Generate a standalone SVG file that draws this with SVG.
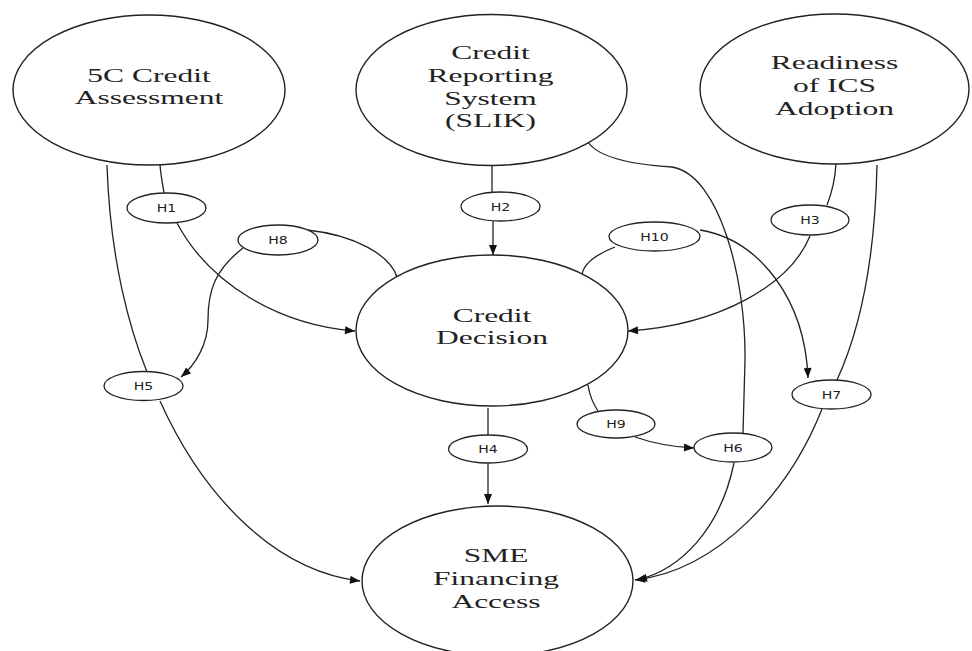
<svg xmlns="http://www.w3.org/2000/svg" width="972" height="651" viewBox="0 0 972 651">
<defs>
<style>
.big{fill:#fff;stroke:#222;stroke-width:1.4}
.hyp{fill:#fff;stroke:#222;stroke-width:1.3}
.lbl{font-family:"Liberation Serif","Times New Roman",serif;font-size:18px;fill:#222;text-anchor:middle}
.hl{font-family:"DejaVu Sans",sans-serif;font-size:11px;fill:#222;text-anchor:middle}
.c{fill:none;stroke:#222;stroke-width:1.3}
.a{marker-end:url(#arr)}
</style>
<marker id="arr" viewBox="0 0 10 8" refX="10" refY="4" markerWidth="11" markerHeight="8" markerUnits="userSpaceOnUse" orient="auto">
<path d="M0,0 L10,4 L0,8 z" fill="#111"/>
</marker>
</defs>
<rect width="972" height="651" fill="#fff"/>

<g id="connectors">
<!-- H1 -->
<path class="c" d="M160,165 C161,177 163,186 164,193"/>
<path class="c a" d="M177,223 C210,285 280,325 355,331"/>
<!-- H5 -->
<path class="c" d="M107,165 C110,260 130,330 147,372"/>
<path class="c a" d="M160,401 C200,490 270,570 360,581"/>
<!-- H8 -->
<path class="c" d="M307,230 C355,235 390,255 397,277"/>
<path class="c a" d="M243,248 C215,270 208,290 208,320 C208,345 195,365 181,377"/>
<!-- H2 -->
<path class="c" d="M492,165 L492,192"/>
<path class="c a" d="M493,221 L493,255"/>
<!-- H3 -->
<path class="c" d="M836,164 C835,180 831,195 827,205"/>
<path class="c a" d="M810,236 C790,285 720,325 628,331"/>
<!-- H7 -->
<path class="c" d="M877,165 C875,260 860,330 837,380"/>
<path class="c a" d="M822,409 C790,490 720,570 635,580"/>
<!-- H10 -->
<path class="c" d="M615,247 C595,255 583,265 582,275"/>
<path class="c a" d="M700,230 C760,240 805,300 808,378"/>
<!-- H6 -->
<path class="c" d="M588,142 C600,160 640,165 672,167 C720,175 746,280 745,360 L743,433"/>
<path class="c a" d="M734,463 C720,530 680,570 637,580"/>
<!-- H9 -->
<path class="c" d="M588,385 C590,398 594,405 598,411"/>
<path class="c a" d="M635,437 C655,444 675,447 694,448"/>
<!-- H4 -->
<path class="c" d="M488,408 L488,435"/>
<path class="c a" d="M488,463 L488,504"/>
</g>

<g id="n-5c">
<ellipse class="big" cx="149" cy="90" rx="136" ry="75"/>
<g transform="translate(149,0) scale(1.75,1)">
<text class="lbl" x="0" y="82">5C Credit</text>
<text class="lbl" x="0" y="104">Assessment</text>
</g>
</g>
<g id="n-slik">
<ellipse class="big" cx="491.5" cy="90" rx="135.5" ry="75.5"/>
<g transform="translate(490.5,0) scale(1.75,1)">
<text class="lbl" x="0" y="59">Credit</text>
<text class="lbl" x="0" y="82">Reporting</text>
<text class="lbl" x="0" y="105">System</text>
<text class="lbl" x="0" y="127">(SLIK)</text>
</g>
</g>
<g id="n-ics">
<ellipse class="big" cx="834.5" cy="89" rx="134.5" ry="75"/>
<g transform="translate(834.5,0) scale(1.75,1)">
<text class="lbl" x="0" y="69">Readiness</text>
<text class="lbl" x="0" y="92">of ICS</text>
<text class="lbl" x="0" y="115">Adoption</text>
</g>
</g>
<g id="n-decision">
<ellipse class="big" cx="492" cy="330.5" rx="136" ry="75.5"/>
<g transform="translate(492,0) scale(1.75,1)">
<text class="lbl" x="0" y="322">Credit</text>
<text class="lbl" x="0" y="344">Decision</text>
</g>
</g>
<g id="n-sme">
<ellipse class="big" cx="497.5" cy="581" rx="135.5" ry="75"/>
<g transform="translate(496,0) scale(1.75,1)">
<text class="lbl" x="0" y="562">SME</text>
<text class="lbl" x="0" y="585">Financing</text>
<text class="lbl" x="0" y="608">Access</text>
</g>
</g>

<g id="h1"><ellipse class="hyp" cx="166.5" cy="208" rx="39.5" ry="15"/><text class="hl" transform="translate(166.5,212) scale(1.28,1)">H1</text></g>
<g id="h2"><ellipse class="hyp" cx="500.5" cy="206.5" rx="39.5" ry="14.5"/><text class="hl" transform="translate(500.5,210.5) scale(1.28,1)">H2</text></g>
<g id="h3"><ellipse class="hyp" cx="810" cy="220" rx="39" ry="15"/><text class="hl" transform="translate(810,224) scale(1.28,1)">H3</text></g>
<g id="h4"><ellipse class="hyp" cx="488" cy="449" rx="39.5" ry="14"/><text class="hl" transform="translate(488,453) scale(1.28,1)">H4</text></g>
<g id="h5"><ellipse class="hyp" cx="143.5" cy="386" rx="39.5" ry="14.5"/><text class="hl" transform="translate(143.5,390) scale(1.28,1)">H5</text></g>
<g id="h6"><ellipse class="hyp" cx="733" cy="447.5" rx="39" ry="14.5"/><text class="hl" transform="translate(733,451.5) scale(1.28,1)">H6</text></g>
<g id="h7"><ellipse class="hyp" cx="831.5" cy="394.5" rx="39.5" ry="14.5"/><text class="hl" transform="translate(831.5,398.5) scale(1.28,1)">H7</text></g>
<g id="h8"><ellipse class="hyp" cx="278" cy="240" rx="40" ry="15"/><text class="hl" transform="translate(278,244) scale(1.28,1)">H8</text></g>
<g id="h9"><ellipse class="hyp" cx="616" cy="424" rx="39" ry="14"/><text class="hl" transform="translate(616,428) scale(1.28,1)">H9</text></g>
<g id="h10"><ellipse class="hyp" cx="654.5" cy="236.5" rx="45.5" ry="14.5"/><text class="hl" transform="translate(654.5,240.5) scale(1.28,1)">H10</text></g>
</svg>
